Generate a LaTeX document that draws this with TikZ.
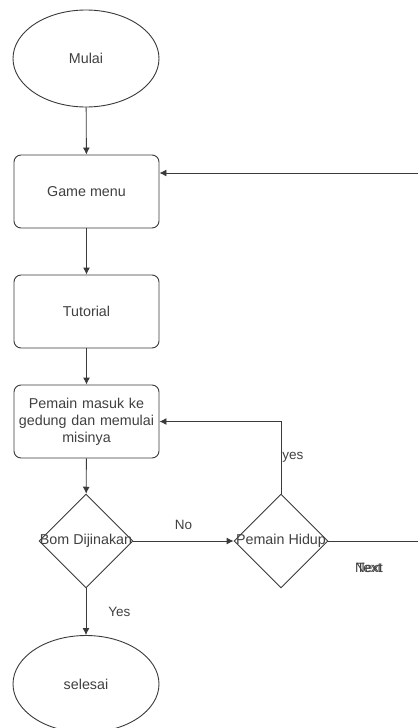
\documentclass[tikz,border=0pt]{standalone}
\usepackage{fontspec}
\setmainfont{Liberation Sans}
\usetikzlibrary{shapes.geometric,arrows.meta}
\definecolor{ln}{HTML}{3A3A3A}
\definecolor{tx}{HTML}{404040}
\tikzset{
  base/.style={draw=ln, line width=0.9pt, fill=white, text=tx, font=\fontsize{14.3}{17}\selectfont, inner sep=0pt},
  term/.style={base, ellipse, minimum width=146pt, minimum height=97pt},
  procbox/.style={base, rectangle, rounded corners=7pt, minimum width=145pt, minimum height=73pt, align=center},
  decide/.style={base, diamond, aspect=1, minimum size=94pt},
  conn/.style={draw=ln, line width=0.9pt, -{Latex[length=7pt,width=7pt]}},
  plain/.style={draw=ln, line width=0.9pt},
  lbl/.style={text=tx, font=\fontsize{13.5}{15}\selectfont, inner sep=0pt},
}
\begin{document}
\begin{tikzpicture}[x=1pt,y=-1pt]
\useasboundingbox (0,0) rectangle (418,728);
\node[term] (mulai) at (86,58.5) {Mulai};
\node[procbox] (game) at (86.5,191.5) {Game menu};
\node[procbox] (tut) at (86.5,311.5) {Tutorial};
\node[procbox, text width=145pt] (masuk) at (86.5,421.5) {Pemain masuk ke\\gedung dan memulai\\misinya};
\node[decide, label={[lbl, font=\fontsize{14.3}{17}\selectfont]center:Bom Dijinakan}] (bom) at (86,541) {};
\node[decide, label={[lbl, font=\fontsize{14.3}{17}\selectfont]center:Pemain Hidup}] (hidup) at (281,541) {};
\node[term] (selesai) at (86,684) {selesai};
\coordinate (inR) at (418,173);
\coordinate (outR) at (418,541);

\draw[conn] (mulai) -- (game);
\draw[conn] (inR) -- (game.east |- inR);
\draw[conn] (game) -- (tut);
\draw[conn] (tut) -- (masuk);
\draw[conn] (masuk) -- (bom);
\draw[conn] (bom.east) -- node[lbl, above=11pt] (no) {No} (hidup.west);
\draw[conn] (hidup.north) |- node[lbl, pos=0.25, right=1pt] (yes1) {yes} (masuk.east);
\draw[plain] (hidup.east) -- (outR);
\node[lbl] (nxt) at (369,568) {Next};
\node[lbl] (txt) at (369,568) {Text};
\draw[conn] (bom.south) -- node[lbl, right=22pt] (yes2) {Yes} (selesai.north);
\end{tikzpicture}
\end{document}
